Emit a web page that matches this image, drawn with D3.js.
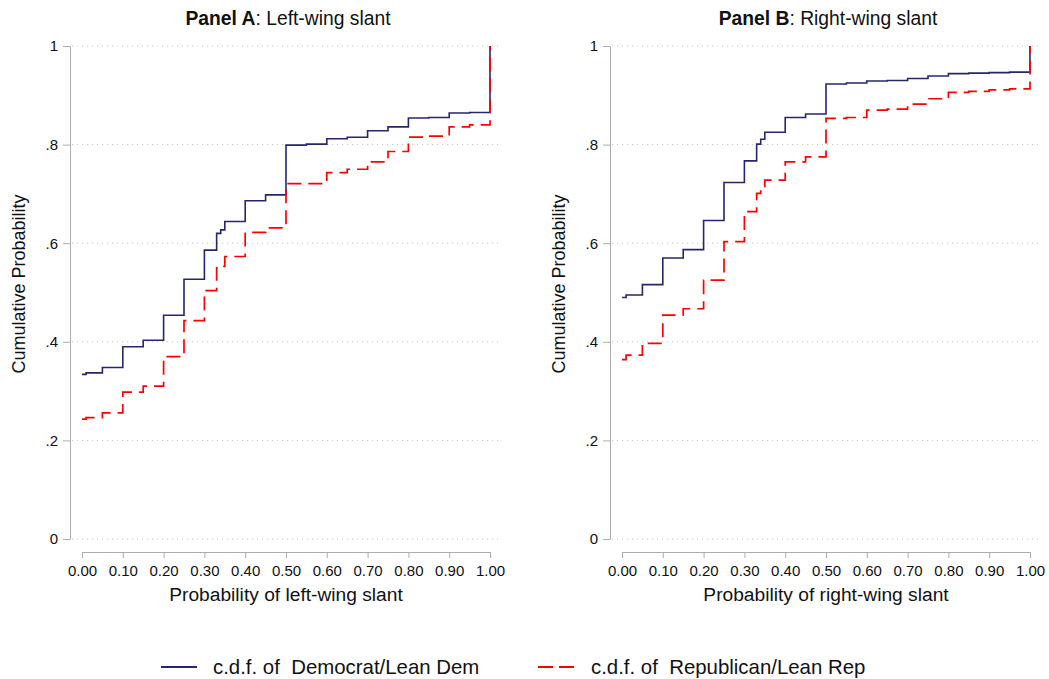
<!DOCTYPE html>
<html>
<head>
<meta charset="utf-8">
<script src="https://cdn.jsdelivr.net/npm/d3@7"></script>
<style>
  html, body { margin: 0; padding: 0; background: #fff; }
  svg { display: block; font-family: "Liberation Sans", Arial, sans-serif; }
</style>
</head>
<body>
<svg id="chart" width="1049" height="679"></svg>
<script>
// ---------- data ----------
const xGrid = [0, 0.01, 0.05, 0.10, 0.15, 0.20, 0.25, 0.30, 0.33, 0.34, 0.35, 0.40, 0.45, 0.50, 0.55, 0.60, 0.65, 0.70, 0.75, 0.80, 0.85, 0.90, 0.95, 1.00];
const demLeft  = [0.334, 0.337, 0.348, 0.390, 0.403, 0.454, 0.527, 0.586, 0.620, 0.627, 0.644, 0.686, 0.698, 0.799, 0.801, 0.812, 0.815, 0.828, 0.836, 0.854, 0.855, 0.864, 0.865, 1.0];
const repLeft  = [0.243, 0.246, 0.256, 0.298, 0.310, 0.370, 0.443, 0.504, 0.550, 0.553, 0.573, 0.622, 0.631, 0.721, 0.721, 0.743, 0.750, 0.765, 0.786, 0.815, 0.817, 0.836, 0.840, 1.0];
const demRight = [0.490, 0.495, 0.516, 0.570, 0.587, 0.646, 0.723, 0.767, 0.801, 0.811, 0.825, 0.855, 0.862, 0.923, 0.925, 0.929, 0.930, 0.934, 0.939, 0.944, 0.945, 0.946, 0.947, 1.0];
const repRight = [0.364, 0.373, 0.397, 0.454, 0.467, 0.525, 0.603, 0.664, 0.701, 0.710, 0.728, 0.765, 0.775, 0.853, 0.855, 0.870, 0.872, 0.882, 0.893, 0.906, 0.908, 0.911, 0.913, 1.0];
const xTicks = [0, 0.1, 0.2, 0.3, 0.4, 0.5, 0.6, 0.7, 0.8, 0.9, 1.0];
const yTicks = [0, 0.2, 0.4, 0.6, 0.8, 1.0];
const yTickLabels = ["0", ".2", ".4", ".6", ".8", "1"];
const panelTitlesBold = ["Panel A", "Panel B"];
const panelTitlesRest = [": Left-wing slant", ": Right-wing slant"];
const xTitles = ["Probability of left-wing slant", "Probability of right-wing slant"];
const yTitle = "Cumulative Probability";
const legendLabels = ["c.d.f. of  Democrat/Lean Dem", "c.d.f. of  Republican/Lean Rep"];

// ---------- style ----------
const NAVY = "#26276b";
const RED = "#ff0000";
const AXIS = "#adadad";
const GRID = "#c4c4c4";

const svg = d3.select("#chart");

const panels = [
  { offset: 0, dem: demLeft, rep: repLeft },
  { offset: 540, dem: demRight, rep: repRight }
];

panels.forEach((p, i) => {
  const g = svg.append("g").attr("transform", `translate(${p.offset},0)`);
  const x = d3.scaleLinear().domain([0, 1]).range([82, 490]);
  const y = d3.scaleLinear().domain([0, 1]).range([539, 46]);

  // gridlines
  g.append("g").selectAll("line").data(yTicks).join("line")
    .attr("x1", 72).attr("x2", 498)
    .attr("y1", d => y(d)).attr("y2", d => y(d))
    .attr("stroke", GRID).attr("stroke-width", 1)
    .attr("stroke-dasharray", "1.2,3.8");

  // y axis
  const ya = g.append("g").attr("transform", "translate(70,0)")
    .call(d3.axisLeft(y).tickValues(yTicks)
      .tickFormat((d, k) => yTickLabels[k]).tickSize(7).tickSizeOuter(0).tickPadding(5));
  ya.select(".domain").attr("stroke", AXIS);
  ya.selectAll(".tick line").attr("stroke", AXIS);
  ya.selectAll(".tick text").attr("font-size", 15).attr("fill", "#111")
    .attr("font-family", "Liberation Sans, Arial, sans-serif");

  // x axis
  const xa = g.append("g").attr("transform", "translate(0,552)")
    .call(d3.axisBottom(x).tickValues(xTicks).tickFormat(d3.format(".2f"))
      .tickSize(6).tickSizeOuter(6).tickPadding(7));
  xa.select(".domain").attr("stroke", AXIS);
  xa.selectAll(".tick line").attr("stroke", AXIS);
  xa.selectAll(".tick text").attr("font-size", 15).attr("fill", "#111")
    .attr("font-family", "Liberation Sans, Arial, sans-serif");

  // lines
  const line = d3.line().x(d => x(d[0])).y(d => y(d[1])).curve(d3.curveStepAfter);
  g.append("path").datum(xGrid.map((v, k) => [v, p.dem[k]]))
    .attr("d", line).attr("fill", "none").attr("stroke", NAVY).attr("stroke-width", 1.6);
  g.append("path").datum(xGrid.map((v, k) => [v, p.rep[k]]))
    .attr("d", line).attr("fill", "none").attr("stroke", RED).attr("stroke-width", 1.7)
    .attr("stroke-dasharray", "14,7");

  // title
  const t = g.append("text").attr("x", 288).attr("y", 25).attr("text-anchor", "middle")
    .attr("font-size", 19.3).attr("fill", "#111");
  t.append("tspan").attr("font-weight", "bold").text(panelTitlesBold[i]);
  t.append("tspan").text(panelTitlesRest[i]);

  // x title
  g.append("text").attr("x", 286).attr("y", 601).attr("text-anchor", "middle")
    .attr("font-size", 19.2).attr("fill", "#111").text(xTitles[i]);

  // y title
  g.append("text").attr("transform", "translate(25,284) rotate(-90)")
    .attr("text-anchor", "middle").attr("font-size", 18).attr("fill", "#111").text(yTitle);
});

// legend
const leg = svg.append("g");
leg.append("line").attr("x1", 161).attr("x2", 197).attr("y1", 667).attr("y2", 667)
  .attr("stroke", NAVY).attr("stroke-width", 1.8);
leg.append("text").attr("x", 213).attr("y", 674).attr("font-size", 20.4).attr("fill", "#111")
  .attr("xml:space", "preserve").style("white-space", "pre").text(legendLabels[0]);
leg.append("line").attr("x1", 538).attr("x2", 574).attr("y1", 667).attr("y2", 667)
  .attr("stroke", RED).attr("stroke-width", 1.8).attr("stroke-dasharray", "15,6");
leg.append("text").attr("x", 591).attr("y", 674).attr("font-size", 20.4).attr("fill", "#111")
  .attr("xml:space", "preserve").style("white-space", "pre").text(legendLabels[1]);
</script>
</body>
</html>
